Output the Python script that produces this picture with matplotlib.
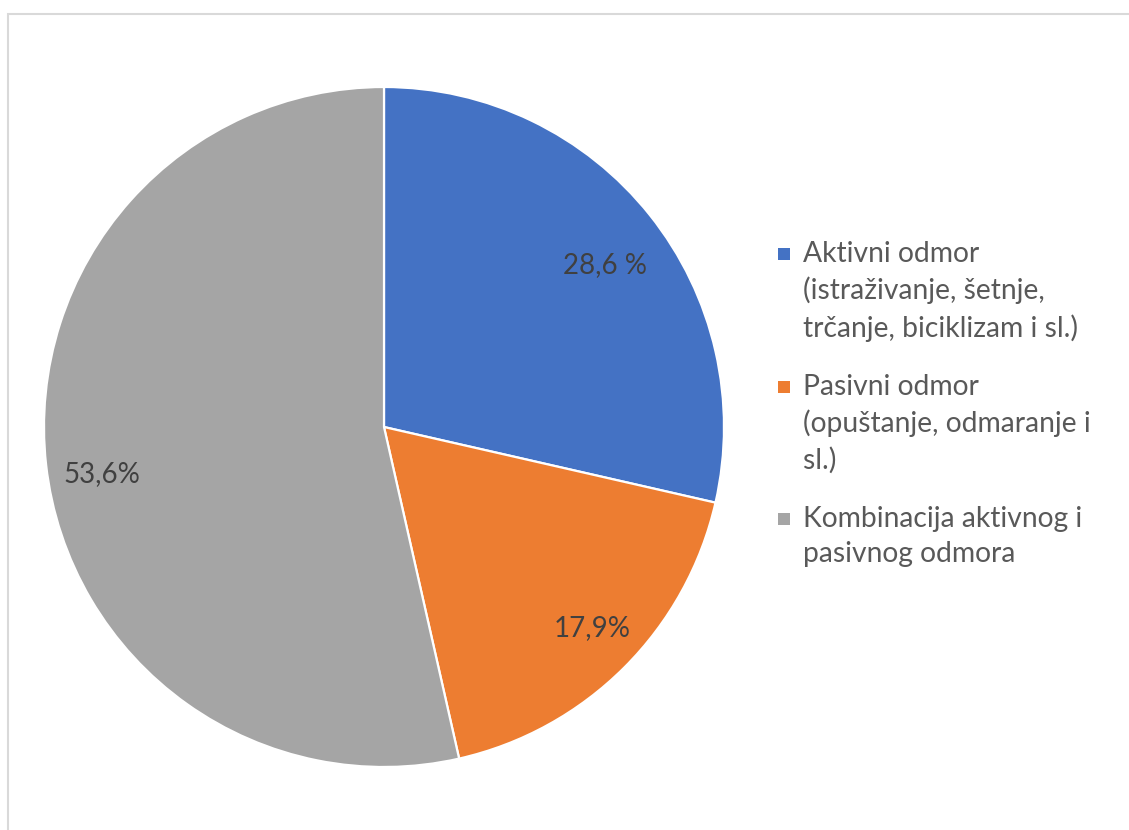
import matplotlib
matplotlib.use("Agg")
from matplotlib import pyplot as plt
from matplotlib.patches import Rectangle

# data
labels = ["Aktivni odmor\n(istraživanje, šetnje,\ntrčanje, biciklizam i sl.)",
          "Pasivni odmor\n(opuštanje, odmaranje i\nsl.)",
          "Kombinacija aktivnog i\npasivnog odmora"]
values = [28.6, 17.9, 53.6]
pct_text = ["28,6 %", "17,9%", "53,6%"]
colors = ["#4472C4", "#ED7D31", "#A5A5A5"]

W, H = 1129, 830
fig = plt.figure(figsize=(W / 100, H / 100), dpi=100)
plt.rcParams["font.family"] = ["Lato", "DejaVu Sans"]

# light chart border
fig.patches.append(Rectangle((8 / W, -0.1), 1.2, (1 - 14 / H) + 0.1, transform=fig.transFigure,
                             fill=False, edgecolor="#D9D9D9", linewidth=1.5))

cx, cy, r = 384, 427, 340
ax = fig.add_axes([(cx - r) / W, (H - cy - r) / H, 2 * r / W, 2 * r / H])
wedges, _ = ax.pie(values, colors=colors, startangle=90, counterclock=False,
                   wedgeprops=dict(edgecolor="white", linewidth=1.6))
ax.set_xlim(-1, 1)
ax.set_ylim(-1, 1)
ax.set_aspect("equal")
ax.axis("off")

# data label positions (Excel best fit), in pie radius units
label_pos = [(0.65, 0.476), (0.612, -0.591), (-0.829, -0.138)]
for (x, y), t in zip(label_pos, pct_text):
    ax.text(x, y, t, ha="center", va="center", fontsize=20, color="#404040")

# legend drawn by hand so the marker sits on the first line
entry_top = [241, 374, 506]
for top, lab, col in zip(entry_top, labels, colors):
    fig.patches.append(Rectangle((778 / W, 1 - (top + 19) / H), 12 / W, 12 / H,
                                 transform=fig.transFigure, facecolor=col, edgecolor="none"))
    fig.text(803 / W, 1 - top / H, lab, ha="left", va="top", fontsize=20.3,
             color="#595959", linespacing=1.43)

fig.savefig("out.png", dpi=100)
